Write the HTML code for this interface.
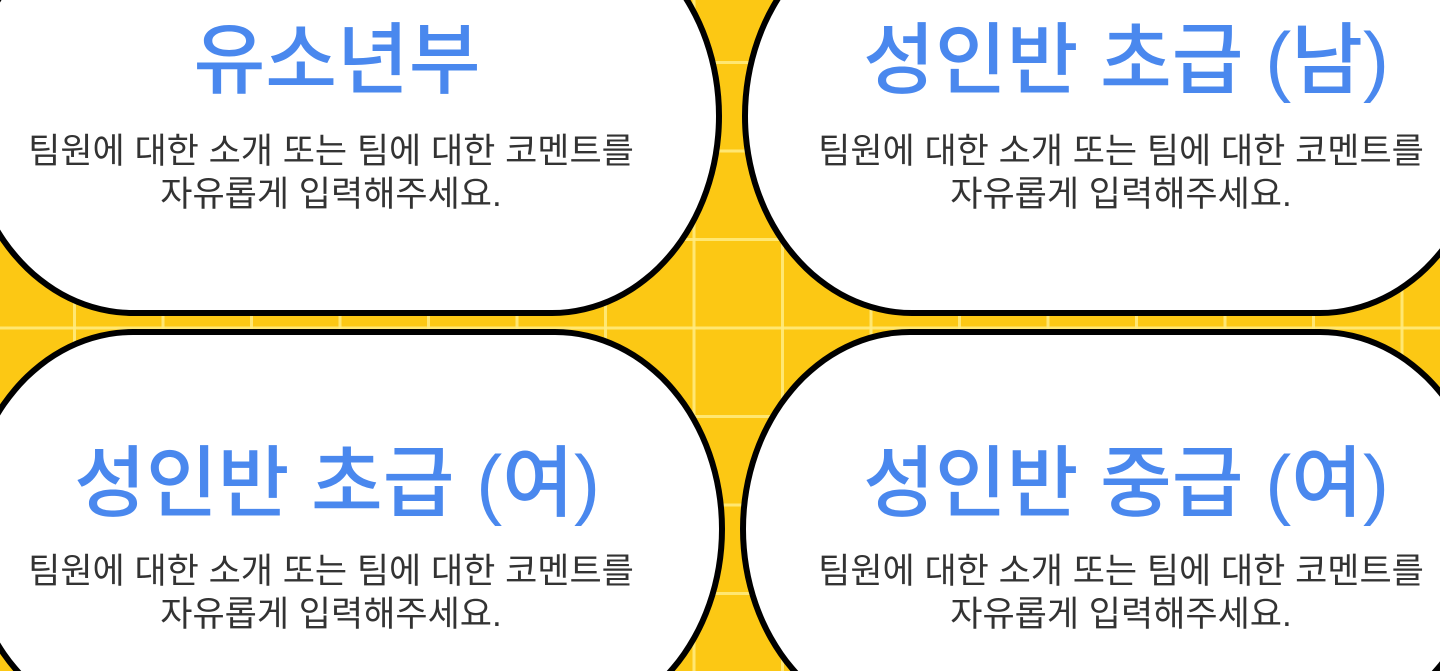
<!DOCTYPE html>
<html><head><meta charset="utf-8"><style>
html,body{margin:0;padding:0;overflow:hidden;width:1440px;height:671px}
#w{width:1440px;height:671px;overflow:hidden;position:relative;background:#fcc814;
background-image:linear-gradient(to right,rgba(255,236,130,.85) 3px,transparent 3px),linear-gradient(to bottom,rgba(255,236,130,.85) 3px,transparent 3px);
background-size:88.5px 88.5px;background-position:73px 61px;font-family:"Liberation Sans","Noto Sans CJK KR",sans-serif}
.p{position:absolute;background:#fff;border:6px solid #000;border-radius:170px/200px;box-sizing:border-box}
.t{position:absolute;text-align:center;width:900px;color:#4a88ee;font-size:78px;font-weight:500;line-height:80px;white-space:nowrap}
.b{position:absolute;text-align:center;width:900px;color:#333;font-size:35px;line-height:43px;white-space:nowrap}
</style></head><body><div id="w">
<div class="p" style="left:-37px;top:-84px;width:759px;height:400px"></div>
<div class="p" style="left:742px;top:-84px;width:748px;height:400px"></div>
<div class="p" style="left:-37px;top:329px;width:762px;height:400px"></div>
<div class="p" style="left:740px;top:329px;width:750px;height:400px"></div>

<div class="t" style="left:-113px;top:20px">유소년부</div>
<div class="b" style="left:-119px;top:130px">팀원에 대한 소개 또는 팀에 대한 코멘트를<br>자유롭게 입력해주세요.</div>
<div class="t" style="left:676px;top:20px">성인반 초급 (남)</div>
<div class="b" style="left:671px;top:130px">팀원에 대한 소개 또는 팀에 대한 코멘트를<br>자유롭게 입력해주세요.</div>
<div class="t" style="left:-113px;top:443px">성인반 초급 (여)</div>
<div class="b" style="left:-119px;top:550px">팀원에 대한 소개 또는 팀에 대한 코멘트를<br>자유롭게 입력해주세요.</div>
<div class="t" style="left:676px;top:443px">성인반 중급 (여)</div>
<div class="b" style="left:671px;top:550px">팀원에 대한 소개 또는 팀에 대한 코멘트를<br>자유롭게 입력해주세요.</div>
</div></body></html>
